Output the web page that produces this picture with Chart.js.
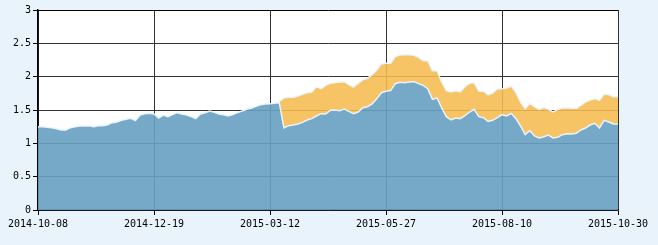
<!DOCTYPE html>
<html>
<head>
<meta charset="utf-8">
<script src="https://cdn.jsdelivr.net/npm/chart.js@4"></script>
<style>
    body { margin: 0; background: #e8f3fb; }
    #navChart { display: block; }
</style>
</head>
<body>
<canvas id="navChart" width="658" height="245"></canvas>
<script>
// one value every 2 trading days, 2014-10-08 .. 2015-10-30
const xTickLabels = ["2014-10-08", "2014-12-19", "2015-03-12", "2015-05-27", "2015-08-10", "2015-10-30"];
const yTicks = [0, 0.5, 1, 1.5, 2, 2.5, 3];
const daysPerPoint = 2;

// unit NAV
const unitNav = [
    1.25, 1.25, 1.24, 1.235, 1.22, 1.20, 1.20, 1.235, 1.25, 1.26,
    1.26, 1.265, 1.25, 1.265, 1.265, 1.28, 1.31, 1.32, 1.345, 1.36,
    1.375, 1.34, 1.425, 1.445, 1.45, 1.44, 1.38, 1.425, 1.40, 1.43,
    1.46, 1.44, 1.425, 1.40, 1.37, 1.44, 1.46, 1.485, 1.465, 1.44,
    1.43, 1.41, 1.43, 1.46, 1.485, 1.51, 1.53, 1.555, 1.58, 1.59,
    1.595, 1.60, 1.61, 1.23, 1.265, 1.275, 1.29, 1.315, 1.35, 1.37,
    1.41, 1.445, 1.44, 1.495, 1.50, 1.49, 1.515, 1.48, 1.445, 1.47,
    1.535, 1.55, 1.59, 1.67, 1.76, 1.78, 1.79, 1.895, 1.915, 1.91,
    1.92, 1.925, 1.895, 1.87, 1.82, 1.66, 1.68, 1.53, 1.40, 1.35,
    1.38, 1.37, 1.415, 1.47, 1.51, 1.40, 1.385, 1.33, 1.345, 1.385,
    1.43, 1.41, 1.45, 1.37, 1.26, 1.13, 1.19, 1.11, 1.08, 1.10,
    1.125, 1.08, 1.09, 1.13, 1.145, 1.14, 1.15, 1.20, 1.23, 1.275,
    1.30, 1.23, 1.345, 1.32, 1.29, 1.29
];

// accumulated NAV, only shown after the split
const accStart = 52;
const accNav = [
    1.63, 1.68, 1.69, 1.69, 1.71, 1.735, 1.76, 1.77,
    1.85, 1.82, 1.87, 1.90, 1.91, 1.92, 1.925, 1.88, 1.845, 1.90,
    1.955, 1.975, 2.03, 2.10, 2.19, 2.20, 2.20, 2.30, 2.325, 2.33,
    2.33, 2.32, 2.29, 2.24, 2.24, 2.09, 2.09, 1.92, 1.79, 1.77,
    1.79, 1.77, 1.85, 1.90, 1.91, 1.78, 1.785, 1.725, 1.755, 1.82,
    1.82, 1.83, 1.86, 1.76, 1.62, 1.52, 1.60, 1.55, 1.51, 1.535,
    1.51, 1.47, 1.51, 1.53, 1.535, 1.525, 1.525, 1.57, 1.62, 1.65,
    1.67, 1.645, 1.74, 1.73, 1.70, 1.70
];

const lastX = (unitNav.length - 1) * daysPerPoint;
const xStep = lastX / (xTickLabels.length - 1);

const unitPoints = unitNav.map((v, i) => ({ x: i * daysPerPoint, y: v }));
const accPoints = unitNav.map((v, i) => ({
    x: i * daysPerPoint,
    y: i < accStart ? null : accNav[i - accStart]
}));

const whiteArea = {
    id: "whiteArea",
    beforeDraw(chart) {
        const { ctx, chartArea } = chart;
        ctx.save();
        ctx.fillStyle = "#ffffff";
        ctx.fillRect(chartArea.left, chartArea.top, chartArea.right - chartArea.left, chartArea.bottom - chartArea.top);
        ctx.restore();
    }
};

const tickFont = { family: "'DejaVu Sans Mono', monospace", size: 10 };

new Chart(document.getElementById("navChart").getContext("2d"), {
    type: "line",
    data: {
        datasets: [
            {
                label: "unit",
                data: unitPoints,
                backgroundColor: "rgba(104,161,194,0.91)",
                borderColor: "rgba(236,246,255,0.95)",
                borderWidth: 1.5,
                pointRadius: 0,
                fill: "origin",
                tension: 0
            },
            {
                label: "acc",
                data: accPoints,
                backgroundColor: "rgba(245,187,80,0.88)",
                borderColor: "rgba(236,246,255,0.95)",
                borderWidth: 1.5,
                pointRadius: 0,
                fill: "-1",
                spanGaps: false,
                tension: 0
            }
        ]
    },
    options: {
        responsive: false,
        animation: false,
        layout: { padding: { left: 0, top: 10, right: 40, bottom: 0 } },
        plugins: {
            legend: { display: false },
            tooltip: { enabled: false }
        },
        scales: {
            x: {
                type: "linear",
                min: 0,
                max: lastX,
                afterBuildTicks(scale) {
                    scale.ticks = xTickLabels.map((_, i) => ({ value: i * xStep }));
                },
                afterFit(scale) { scale.height = 35; },
                grid: { color: "#333", tickColor: "#000", tickLength: 5, lineWidth: 1 },
                border: { color: "#000", width: 1.5 },
                ticks: {
                    color: "#000",
                    font: tickFont,
                    padding: 3,
                    maxRotation: 0,
                    autoSkip: false,
                    callback: (value, index) => xTickLabels[index]
                }
            },
            y: {
                min: 0,
                max: 3,
                afterBuildTicks(scale) {
                    scale.ticks = yTicks.map(v => ({ value: v }));
                },
                afterFit(scale) { scale.width = 38; },
                grid: {
                    color: ctx => ctx.tick && ctx.tick.value === 3 ? "#000" : "#333",
                    tickColor: "#000",
                    tickLength: 5,
                    lineWidth: 1
                },
                border: { color: "#000", width: 1.5 },
                ticks: {
                    color: "#000",
                    font: tickFont,
                    padding: 2,
                    callback: v => String(v)
                }
            }
        }
    },
    plugins: [whiteArea]
});
</script>
</body>
</html>
